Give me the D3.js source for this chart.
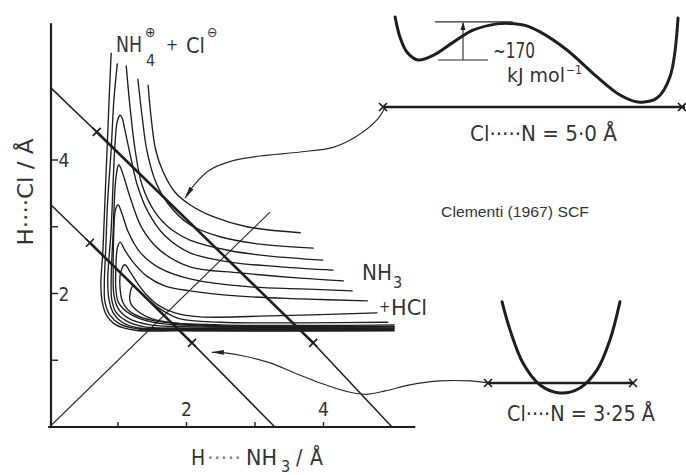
<!DOCTYPE html>
<meta charset="utf-8">
<style>
body { margin: 0; background: #fff; }
svg { display: block; }
.t { font-family: "DejaVu Sans Condensed", "Liberation Sans Narrow", "DejaVu Sans", sans-serif; fill: #333; }
.contour { fill: none; stroke: #1e1e1e; stroke-width: 1.35; stroke-linejoin: round; stroke-linecap: round; }
.axis-line { stroke: #1e1e1e; stroke-width: 2.2; }
.thin { fill: none; stroke: #2a2a2a; stroke-width: 1.1; }
.inset { fill: none; stroke: #1e1e1e; stroke-width: 3; stroke-linecap: round; }
</style>
<svg id="chart" width="686" height="475"></svg>
<script src="https://cdn.jsdelivr.net/npm/d3@7"></script>
<script>

// ---- data, main panel (Å) ----
var xTicks = [1, 2, 3, 4];
var yTicks = [1, 2, 3, 4];
var tickLabels = [2, 4];

// Cl...N cut lines: start, cross, cross, end
var cut50 = [[0.02, 5.08], [0.69, 4.42], [3.85, 1.26], [5.0, 0]];
var cut325 = [[0.02, 3.33], [0.59, 2.76], [2.08, 1.26], [3.29, 0]];
var diagonal = [[0, 0], [3.22, 3.22]];

// left-wall pieces of the open contours
var leftWalls = [
  [[0.90,5.60],[0.87,4.90],[0.84,4.15],[0.81,3.40],[0.78,2.65],[0.75,2.13],[0.77,1.87],[0.83,1.68],[0.97,1.53],[1.25,1.45],[1.91,1.44],[5.03,1.44]],
  [[0.99,5.44],[0.94,4.90],[0.90,4.15],[0.85,3.40],[0.82,2.65],[0.80,2.13],[0.81,1.87],[0.88,1.68],[1.03,1.54],[1.29,1.47],[1.91,1.45],[5.03,1.45]]
];

// right pieces of the open contours
var openBranches = [
  [[1.12,5.41],[1.18,4.75],[1.25,4.15],[1.35,3.63],[1.54,3.22],[1.79,2.95],[2.05,2.80],[2.64,2.64],[3.22,2.56],[3.99,2.50]],
  [[1.29,5.21],[1.35,4.67],[1.42,4.15],[1.54,3.70],[1.72,3.36],[2.05,3.03],[2.49,2.85],[3.07,2.74],[3.85,2.68]],
  [[1.44,5.12],[1.48,4.67],[1.55,4.15],[1.66,3.82],[1.83,3.52],[2.05,3.33],[2.39,3.15],[2.88,3.00],[3.66,2.91]]
];

// contours closed at the top (NH4+ Cl- well)
var closedContours = [
  [[4.14,2.35],[3.37,2.40],[2.64,2.47],[2.05,2.61],[1.69,2.86],[1.44,3.22],[1.28,3.63],[1.18,4.07],[1.10,4.45],[1.06,4.63],[1.03,4.67],[0.99,4.58],[0.96,4.30],[0.93,3.70],[0.90,2.95],[0.85,2.20],[0.87,1.90],[0.93,1.71],[1.06,1.57],[1.32,1.48],[2.05,1.47],[5.03,1.47]],
  [[4.29,2.19],[3.66,2.23],[2.78,2.31],[2.05,2.40],[1.61,2.65],[1.35,2.98],[1.19,3.40],[1.09,3.73],[1.04,3.88],[1.01,3.93],[0.99,3.87],[0.96,3.63],[0.93,2.95],[0.90,2.20],[0.91,1.90],[0.97,1.72],[1.12,1.59],[1.39,1.50],[2.20,1.48],[5.03,1.48]],
  [[4.42,2.04],[3.66,2.07],[2.93,2.10],[2.05,2.22],[1.61,2.38],[1.32,2.62],[1.15,2.92],[1.06,3.19],[1.00,3.33],[0.96,3.24],[0.94,2.95],[0.93,2.35],[0.94,1.98],[1.00,1.78],[1.15,1.63],[1.47,1.53],[2.20,1.50],[5.03,1.50]],
  [[4.64,1.89],[3.66,1.92],[2.78,1.96],[2.05,2.04],[1.69,2.11],[1.42,2.26],[1.22,2.47],[1.10,2.65],[1.03,2.77],[0.99,2.68],[0.97,2.43],[0.97,2.05],[1.01,1.86],[1.18,1.69],[1.50,1.57],[2.34,1.51],[5.03,1.51]],
  [[4.78,1.71],[3.07,1.66],[2.20,1.65],[1.83,1.71],[1.58,1.83],[1.41,1.99],[1.28,2.16],[1.18,2.32],[1.10,2.43],[1.04,2.32],[1.03,2.08],[1.07,1.87],[1.20,1.71],[1.54,1.59],[2.49,1.53],[5.03,1.53]],
  [[4.94,1.57],[3.66,1.56],[2.49,1.57],[1.91,1.62],[1.66,1.74],[1.48,1.87],[1.34,2.01],[1.22,2.11],[1.18,2.02],[1.18,1.87],[1.28,1.74],[1.50,1.62],[1.98,1.54],[2.93,1.51],[5.03,1.50]]
];
var valleyFloor = [[1.30,1.465],[5.03,1.465]];

// annotation arrows (same Å frame)
var arrowTop = [[4.90,4.79],[4.78,4.60],[4.46,4.34],[4.14,4.19],[3.66,4.12],[3.07,4.06],[2.68,3.99],[2.34,3.85],[2.14,3.66],[1.98,3.43]];
var arrowBottom = [[6.40,0.66],[6.14,0.69],[5.70,0.69],[5.26,0.63],[4.90,0.54],[4.61,0.49],[4.31,0.54],[3.95,0.66],[3.58,0.81],[3.22,0.96],[2.85,1.06],[2.56,1.11],[2.37,1.12]];

// ---- data, insets: s = fraction along the cut, E in kJ/mol ----
var well50 = [[0.040,391],[0.056,299],[0.079,230],[0.116,193],[0.166,214],[0.232,274],[0.298,330],[0.377,359],[0.420,361],[0.470,352],[0.520,322],[0.609,239],[0.709,115],[0.785,32],[0.844,0],[0.907,18],[0.950,115],[0.977,386]];
var barrierTop = 368, barrierLow = 193;
var well325 = [[0.097,419],[0.152,290],[0.241,138],[0.359,37],[0.497,0],[0.634,23],[0.752,106],[0.841,244],[0.910,419]];

var svg = d3.select("#chart");

var x = d3.scaleLinear().domain([0, 4]).range([49.5, 323.5]);
var y = d3.scaleLinear().domain([0, 4]).range([427, 160]);

var smooth = d3.line().x(function(d) { return x(d[0]); }).y(function(d) { return y(d[1]); })
    .curve(d3.curveCatmullRom.alpha(0.5));
var straight = d3.line().x(function(d) { return x(d[0]); }).y(function(d) { return y(d[1]); });

var defs = svg.append("defs");
defs.append("marker").attr("id", "head")
    .attr("viewBox", "0 -3 13 6").attr("refX", 12).attr("refY", 0)
    .attr("markerWidth", 13).attr("markerHeight", 6)
    .attr("markerUnits", "userSpaceOnUse").attr("orient", "auto")
  .append("path").attr("d", "M0,-2.4L13,0L0,2.4Z").attr("fill", "#222");
defs.append("marker").attr("id", "headSmall")
    .attr("viewBox", "0 -3 8 6").attr("refX", 7).attr("refY", 0)
    .attr("markerWidth", 8).attr("markerHeight", 6)
    .attr("markerUnits", "userSpaceOnUse").attr("orient", "auto")
  .append("path").attr("d", "M0,-2.5L8,0L0,2.5Z").attr("fill", "#222");

function cross(g, px, py, s) {
  g.append("path")
    .attr("d", "M" + (px - s) + "," + (py - s) + "L" + (px + s) + "," + (py + s) +
               "M" + (px - s) + "," + (py + s) + "L" + (px + s) + "," + (py - s))
    .attr("stroke", "#1e1e1e").attr("stroke-width", 1.7).attr("fill", "none");
}

function label(px, py, size, str, len) {
  var t = svg.append("text").attr("class", "t").style("font-size", size + "px")
      .attr("x", px).attr("y", py).text(str);
  if (len) t.attr("textLength", len).attr("lengthAdjust", "spacingAndGlyphs");
  return t;
}

//axes
svg.append("line").attr("class", "axis-line")
    .attr("x1", 51).attr("x2", 51).attr("y1", y(6.05)).attr("y2", y(0));
svg.append("line").attr("class", "axis-line")
    .attr("x1", x(-0.02)).attr("x2", x(5.34)).attr("y1", y(0)).attr("y2", y(0));

svg.selectAll(".xtick").data(xTicks).enter().append("line")
    .attr("class", "xtick").attr("stroke", "#1e1e1e").attr("stroke-width", 1.4)
    .attr("x1", function(d) { return x(d); }).attr("x2", function(d) { return x(d); })
    .attr("y1", y(0)).attr("y2", y(0) - 5);
svg.selectAll(".ytick").data(yTicks).enter().append("line")
    .attr("class", "ytick").attr("stroke", "#1e1e1e").attr("stroke-width", 1.4)
    .attr("x1", 51).attr("x2", 58)
    .attr("y1", function(d) { return y(d); }).attr("y2", function(d) { return y(d); });

svg.selectAll(".xlab").data(tickLabels).enter().append("text")
    .attr("class", "t xlab").attr("text-anchor", "middle").style("font-size", "19px")
    .attr("x", function(d) { return x(d); }).attr("y", y(0) - 11)
    .text(function(d) { return d; });
svg.selectAll(".ylab").data(tickLabels).enter().append("text")
    .attr("class", "t ylab").attr("text-anchor", "middle").style("font-size", "19px")
    .attr("x", 64).attr("y", function(d) { return y(d) + 7; })
    .text(function(d) { return d; });

// axis titles
svg.append("text").attr("class", "t").style("font-size", "21px")
    .attr("text-anchor", "middle")
    .attr("transform", "translate(33,192) rotate(-90)")
    .attr("textLength", 107).attr("lengthAdjust", "spacingAndGlyphs")
    .text("H\u00b7\u00b7\u00b7\u00b7Cl / \u00c5");

label(191, 465, 21, "H");
label(207, 465, 21, "\u00b7\u00b7\u00b7\u00b7\u00b7", 34).style("fill", "#888");
label(246, 465, 21, "NH", 31);
label(281, 472, 16, "3");
label(296, 465, 21, "/");
label(310, 465, 21, "\u00c5");

// diagonal and cut lines
svg.append("path").attr("class", "thin").attr("d", straight(diagonal));

[cut50, cut325].forEach(function(c) {
  svg.append("path").attr("fill", "none").attr("stroke", "#1e1e1e").attr("stroke-width", 1.5)
      .attr("d", straight([c[0], c[1]]));
  svg.append("path").attr("fill", "none").attr("stroke", "#1e1e1e").attr("stroke-width", 2.6)
      .attr("d", straight([c[1], c[2]]));
  svg.append("path").attr("fill", "none").attr("stroke", "#1e1e1e").attr("stroke-width", 1.5)
      .attr("d", straight([c[2], c[3]]));
  cross(svg, x(c[1][0]), y(c[1][1]), 4);
  cross(svg, x(c[2][0]), y(c[2][1]), 4);
});

// contours
var cg = svg.append("g");
cg.selectAll(".wall").data(leftWalls).enter().append("path")
    .attr("class", "contour wall").attr("d", smooth);
cg.selectAll(".open").data(openBranches).enter().append("path")
    .attr("class", "contour open").attr("d", smooth);
cg.selectAll(".closed").data(closedContours).enter().append("path")
    .attr("class", "contour closed").attr("d", smooth);
cg.append("path").attr("fill", "none").attr("stroke", "#1e1e1e").attr("stroke-width", 3)
    .attr("d", straight(valleyFloor));

// arrows
svg.append("path").attr("fill", "none").attr("stroke", "#2a2a2a").attr("stroke-width", 1.2)
    .attr("marker-end", "url(#head)").attr("d", smooth(arrowTop));
svg.append("path").attr("fill", "none").attr("stroke", "#2a2a2a").attr("stroke-width", 1.2)
    .attr("marker-end", "url(#head)").attr("d", smooth(arrowBottom));

// region labels
label(116, 52, 22, "NH", 26);
label(146, 66, 16, "4");
label(145, 37, 14, "\u2295");
label(166, 50, 16, "+");
label(186, 53, 22, "Cl", 19);
label(207, 37, 14, "\u2296");

label(362, 280, 22, "NH", 30);
label(393, 288, 16, "3");
label(379, 312, 15, "+");
label(391, 315, 22, "HCl", 36);

svg.append("text").style("font-family", "'Liberation Sans', Arial, sans-serif")
    .style("font-size", "15px").attr("fill", "#333")
    .attr("x", 441).attr("y", 217).attr("textLength", 148).attr("lengthAdjust", "spacingAndGlyphs")
    .text("Clementi (1967) SCF");

// ---- inset: Cl...N = 5.0 A ----
var s1 = d3.scaleLinear().domain([0, 1]).range([383, 685]);
var e1 = d3.scaleLinear().domain([0, 170]).range([102, 65]);
var inset1 = d3.line().x(function(d) { return s1(d[0]); }).y(function(d) { return e1(d[1]); })
    .curve(d3.curveCatmullRom.alpha(0.5));

svg.append("path").attr("class", "inset").attr("d", inset1(well50));
svg.append("line").attr("stroke", "#1e1e1e").attr("stroke-width", 2.6)
    .attr("x1", s1(0)).attr("x2", s1(1)).attr("y1", e1(-23)).attr("y2", e1(-23));
cross(svg, s1(0), e1(-23), 4);
cross(svg, s1(1) - 3, e1(-23), 4);

svg.append("line").attr("class", "thin").attr("x1", s1(0.172)).attr("x2", s1(0.430))
    .attr("y1", e1(barrierTop)).attr("y2", e1(barrierTop));
svg.append("line").attr("class", "thin").attr("x1", s1(0.182)).attr("x2", s1(0.348))
    .attr("y1", e1(barrierLow)).attr("y2", e1(barrierLow));
svg.append("line").attr("stroke", "#2a2a2a").attr("stroke-width", 1.1)
    .attr("marker-end", "url(#headSmall)")
    .attr("x1", s1(0.265)).attr("x2", s1(0.265))
    .attr("y1", e1(barrierLow)).attr("y2", e1(barrierTop) + 1);

label(493, 58, 21, "~" + (barrierTop - barrierLow - 5), 42);
label(507, 82, 20, "kJ mol", 58);
label(566, 74, 12, "\u22121");

label(470, 141, 22, "Cl\u00b7\u00b7\u00b7\u00b7\u00b7N = 5\u00b70 \u00c5", 147);

// ---- inset: Cl...N = 3.25 A ----
var s2 = d3.scaleLinear().domain([0, 1]).range([488, 633]);
var e2 = d3.scaleLinear().domain([0, 170]).range([393, 356]);
var inset2 = d3.line().x(function(d) { return s2(d[0]); }).y(function(d) { return e2(d[1]); })
    .curve(d3.curveCatmullRom.alpha(0.5));

svg.append("path").attr("class", "inset").attr("d", inset2(well325));
svg.append("line").attr("stroke", "#1e1e1e").attr("stroke-width", 2.6)
    .attr("x1", s2(0)).attr("x2", s2(1)).attr("y1", e2(46)).attr("y2", e2(46));
cross(svg, s2(0), e2(46), 4);
cross(svg, s2(1), e2(46), 4);

label(507, 421, 22, "Cl\u00b7\u00b7\u00b7\u00b7N = 3\u00b725 \u00c5", 148);

</script>
